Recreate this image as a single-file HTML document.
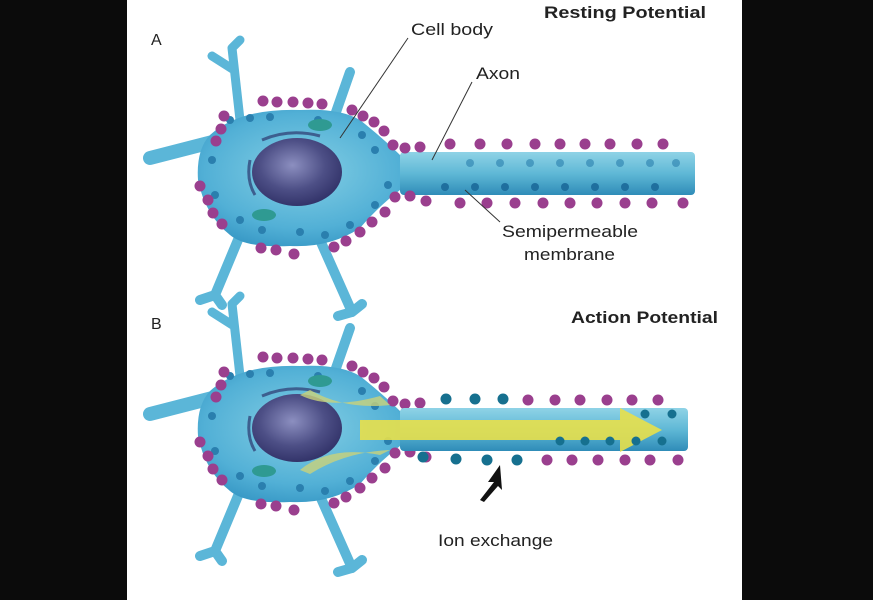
<!DOCTYPE html>
<html><head><meta charset="utf-8"><style>
html,body{margin:0;padding:0;background:#0b0b0b;}
svg{display:block;}
text{font-family:"Liberation Sans",Arial,sans-serif;fill:#222;}
</style></head><body>
<svg width="873" height="600" viewBox="0 0 873 600" xmlns="http://www.w3.org/2000/svg">
<defs>
<radialGradient id="nuc" cx="0.45" cy="0.4" r="0.6">
<stop offset="0" stop-color="#8c8fc0"/><stop offset="0.6" stop-color="#4d4f86"/><stop offset="1" stop-color="#33346a"/></radialGradient>
<linearGradient id="ax" x1="0" y1="0" x2="0" y2="1">
<stop offset="0" stop-color="#8fd3e6"/><stop offset="0.5" stop-color="#5fb8d6"/><stop offset="1" stop-color="#2f8cb8"/></linearGradient>
<radialGradient id="soma" cx="0.45" cy="0.45" r="0.6">
<stop offset="0" stop-color="#84cfe4"/><stop offset="0.7" stop-color="#52b0d6"/><stop offset="1" stop-color="#3596c4"/></radialGradient>
<g id="neuron">
 <g stroke="#5bb6d8" stroke-linecap="round" fill="none">
  <path d="M220 140 L150 158" stroke-width="14"/>
  <path d="M240 120 L232 48 M234 70 L212 56 M232 48 L240 40" stroke-width="9"/>
  <path d="M335 115 L350 72" stroke-width="10"/>
  <path d="M240 235 L215 295 M215 295 L200 300 M215 295 L222 305" stroke-width="10"/>
  <path d="M320 240 L352 312 M352 312 L338 316 M352 312 L362 304" stroke-width="10"/>
 </g>
 <path d="M210 135 Q240 108 300 110 Q340 108 360 120 Q385 140 400 155 L430 155 L430 190 L400 190 Q380 205 360 228 Q330 248 290 246 Q245 248 230 235 Q205 215 198 180 Q196 150 210 135 Z" fill="url(#soma)"/>
 <g fill="#2a7fae">
  <circle cx="230" cy="120" r="4"/><circle cx="250" cy="118" r="4"/><circle cx="270" cy="117" r="4"/><circle cx="318" cy="120" r="4"/><circle cx="362" cy="135" r="4"/><circle cx="375" cy="150" r="4"/><circle cx="388" cy="185" r="4"/><circle cx="375" cy="205" r="4"/><circle cx="350" cy="225" r="4"/><circle cx="325" cy="235" r="4"/><circle cx="300" cy="232" r="4"/><circle cx="262" cy="230" r="4"/><circle cx="240" cy="220" r="4"/><circle cx="215" cy="195" r="4"/><circle cx="212" cy="160" r="4"/>
 </g>
 <ellipse cx="320" cy="125" rx="12" ry="6" fill="#2f9a92"/>
 <ellipse cx="264" cy="215" rx="12" ry="6" fill="#2f9a92"/>
 <ellipse cx="297" cy="172" rx="45" ry="34" fill="url(#nuc)"/>
 <path d="M262 140 Q290 128 320 136" stroke="#3d5f8f" stroke-width="3" fill="none"/>
 <path d="M250 160 Q246 180 255 195" stroke="#3d5f8f" stroke-width="3" fill="none"/>
</g>
</defs>
<rect x="127" y="0" width="615" height="600" fill="#fff"/>

<!-- A -->
<use href="#neuron"/>
<rect x="400" y="152" width="295" height="43" rx="4" fill="url(#ax)"/>
<g fill="#2a7fae" opacity="0.6">
<circle cx="470" cy="163" r="4"/><circle cx="500" cy="163" r="4"/><circle cx="530" cy="163" r="4"/><circle cx="560" cy="163" r="4"/><circle cx="590" cy="163" r="4"/><circle cx="620" cy="163" r="4"/><circle cx="650" cy="163" r="4"/><circle cx="676" cy="163" r="4"/></g>
<g fill="#1f6f9e"><circle cx="445" cy="187" r="4"/><circle cx="475" cy="187" r="4"/><circle cx="505" cy="187" r="4"/><circle cx="535" cy="187" r="4"/><circle cx="565" cy="187" r="4"/><circle cx="595" cy="187" r="4"/><circle cx="625" cy="187" r="4"/><circle cx="655" cy="187" r="4"/></g>
<g fill="#9a3f8e" id="dotsA">
<circle cx="263" cy="101" r="5.5"/><circle cx="277" cy="102" r="5.5"/><circle cx="293" cy="102" r="5.5"/><circle cx="308" cy="103" r="5.5"/><circle cx="322" cy="104" r="5.5"/>
<circle cx="352" cy="110" r="5.5"/><circle cx="363" cy="116" r="5.5"/><circle cx="374" cy="122" r="5.5"/><circle cx="384" cy="131" r="5.5"/><circle cx="393" cy="145" r="5.5"/><circle cx="405" cy="148" r="5.5"/><circle cx="420" cy="147" r="5.5"/>
<circle cx="224" cy="116" r="5.5"/><circle cx="221" cy="129" r="5.5"/><circle cx="216" cy="141" r="5.5"/>
<circle cx="200" cy="186" r="5.5"/><circle cx="208" cy="200" r="5.5"/><circle cx="213" cy="213" r="5.5"/><circle cx="222" cy="224" r="5.5"/>
<circle cx="261" cy="248" r="5.5"/><circle cx="276" cy="250" r="5.5"/><circle cx="294" cy="254" r="5.5"/>
<circle cx="334" cy="247" r="5.5"/><circle cx="346" cy="241" r="5.5"/><circle cx="360" cy="232" r="5.5"/><circle cx="372" cy="222" r="5.5"/><circle cx="385" cy="212" r="5.5"/><circle cx="395" cy="197" r="5.5"/><circle cx="410" cy="196" r="5.5"/><circle cx="426" cy="201" r="5.5"/>
</g>
<g fill="#9a3f8e">
<circle cx="450" cy="144" r="5.5"/><circle cx="480" cy="144" r="5.5"/><circle cx="507" cy="144" r="5.5"/><circle cx="535" cy="144" r="5.5"/><circle cx="560" cy="144" r="5.5"/><circle cx="585" cy="144" r="5.5"/><circle cx="610" cy="144" r="5.5"/><circle cx="637" cy="144" r="5.5"/><circle cx="663" cy="144" r="5.5"/>
<circle cx="460" cy="203" r="5.5"/><circle cx="487" cy="203" r="5.5"/><circle cx="515" cy="203" r="5.5"/><circle cx="543" cy="203" r="5.5"/><circle cx="570" cy="203" r="5.5"/><circle cx="597" cy="203" r="5.5"/><circle cx="625" cy="203" r="5.5"/><circle cx="652" cy="203" r="5.5"/><circle cx="683" cy="203" r="5.5"/>
</g>
<text x="151" y="45" font-size="16">A</text>
<text x="544" y="18" font-size="17" font-weight="bold" textLength="162" lengthAdjust="spacingAndGlyphs">Resting Potential</text>
<text x="411" y="35" font-size="17" textLength="82" lengthAdjust="spacingAndGlyphs">Cell body</text>
<line x1="408" y1="38" x2="340" y2="138" stroke="#333" stroke-width="1"/>
<text x="476" y="79" font-size="17" textLength="44" lengthAdjust="spacingAndGlyphs">Axon</text>
<line x1="472" y1="82" x2="432" y2="160" stroke="#333" stroke-width="1"/>
<text x="502" y="237" font-size="17" textLength="136" lengthAdjust="spacingAndGlyphs">Semipermeable</text>
<text x="524" y="260" font-size="17" textLength="91" lengthAdjust="spacingAndGlyphs">membrane</text>
<line x1="465" y1="190" x2="500" y2="222" stroke="#333" stroke-width="1"/>

<!-- B -->
<g transform="translate(0,256)"><use href="#neuron"/><use href="#dotsA"/></g>
<rect x="400" y="408" width="288" height="43" rx="4" fill="url(#ax)"/>
<path d="M380 396 Q330 410 300 395 L310 390 Q345 410 390 405 Z" fill="#c9d27a" opacity="0.8"/>
<path d="M380 455 Q330 445 300 470 L310 474 Q345 452 390 450 Z" fill="#c9d27a" opacity="0.8"/>
<path d="M360 420 L620 420 L620 408 L662 430 L620 452 L620 440 L360 440 Z" fill="#e8e04a" opacity="0.9"/>
<g fill="#9a3f8e">
<circle cx="528" cy="400" r="5.5"/><circle cx="555" cy="400" r="5.5"/><circle cx="580" cy="400" r="5.5"/><circle cx="607" cy="400" r="5.5"/><circle cx="632" cy="400" r="5.5"/><circle cx="658" cy="400" r="5.5"/>
<circle cx="547" cy="460" r="5.5"/><circle cx="572" cy="460" r="5.5"/><circle cx="598" cy="460" r="5.5"/><circle cx="625" cy="460" r="5.5"/><circle cx="650" cy="460" r="5.5"/><circle cx="678" cy="460" r="5.5"/>
</g>
<g fill="#16708f">
<circle cx="446" cy="399" r="5.5"/><circle cx="475" cy="399" r="5.5"/><circle cx="503" cy="399" r="5.5"/>
<circle cx="423" cy="457" r="5.5"/><circle cx="456" cy="459" r="5.5"/><circle cx="487" cy="460" r="5.5"/><circle cx="517" cy="460" r="5.5"/>
<circle cx="560" cy="441" r="4.5"/><circle cx="585" cy="441" r="4.5"/><circle cx="610" cy="441" r="4.5"/><circle cx="636" cy="441" r="4.5"/><circle cx="662" cy="441" r="4.5"/><circle cx="672" cy="414" r="4.5"/><circle cx="645" cy="414" r="4.5"/>
</g>
<path d="M500 465 L488 482 L494 482 L480 500 L484 502 L498 486 L502 490 Z" fill="#111"/>
<text x="151" y="329" font-size="16">B</text>
<text x="571" y="323" font-size="17" font-weight="bold" textLength="147" lengthAdjust="spacingAndGlyphs">Action Potential</text>
<text x="438" y="546" font-size="17" textLength="115" lengthAdjust="spacingAndGlyphs">Ion exchange</text>
</svg>
</body></html>
